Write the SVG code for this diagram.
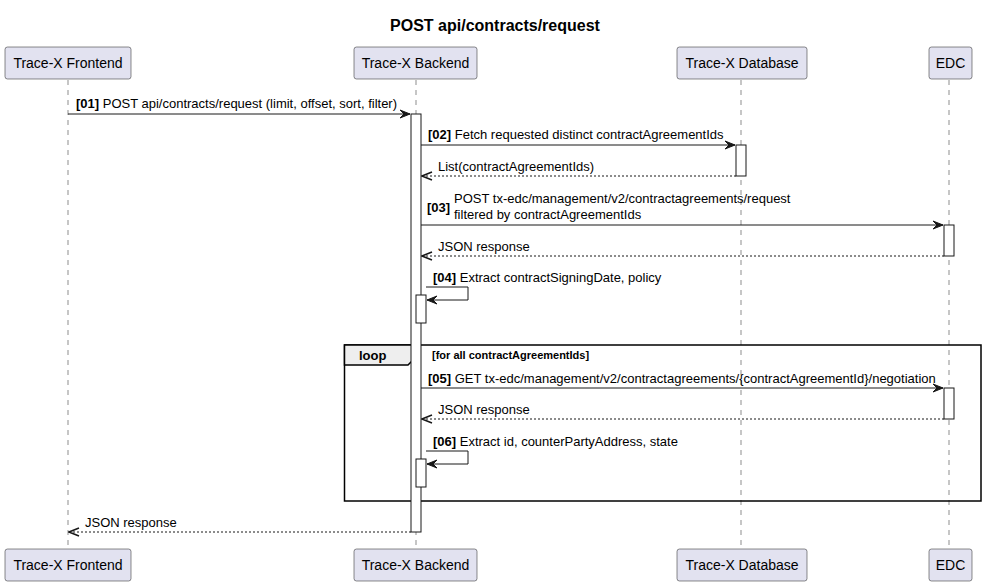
<svg xmlns="http://www.w3.org/2000/svg" width="986" height="587" viewBox="0 0 986 587">
<defs>
<style>
text{font-family:"Liberation Sans",Arial,sans-serif;fill:#000}
.p rect{fill:#E2E2F0;stroke:#181818;stroke-width:0.5}
.p text{font-size:14px}
.ll{stroke:#181818;stroke-width:0.5;stroke-dasharray:5,5;fill:none}
.act{fill:#FFFFFF;stroke:#181818;stroke-width:1}
.m{stroke:#181818;stroke-width:1;fill:none}
.r{stroke:#181818;stroke-width:1;stroke-dasharray:2,2;fill:none}
.t{font-size:13px}
.b{font-weight:bold}
</style>
<marker id="af" viewBox="0 0 12 10" refX="11" refY="5" markerWidth="12" markerHeight="10" markerUnits="userSpaceOnUse" orient="auto">
<path d="M11,5 L1,1 L5,5 L1,9 Z" fill="#181818" stroke="#181818" stroke-width="1"/>
</marker>
<marker id="ao" viewBox="0 0 12 10" refX="11" refY="5" markerWidth="12" markerHeight="10" markerUnits="userSpaceOnUse" orient="auto">
<path d="M1,1 L11,5 L1,9" fill="none" stroke="#181818" stroke-width="1.5"/>
</marker>
</defs>
<rect width="986" height="587" fill="#FFFFFF"/>
<text x="495" y="31" text-anchor="middle" font-size="16" font-weight="bold">POST api/contracts/request</text>

<g id="lifelines">
<line class="ll" x1="68" y1="80" x2="68" y2="549"/>
<line class="ll" x1="416" y1="80" x2="416" y2="549"/>
<line class="ll" x1="741" y1="80" x2="741" y2="549"/>
<line class="ll" x1="949" y1="80" x2="949" y2="549"/>
</g>

<g id="loop-frame">
<rect x="344.5" y="345" width="636.5" height="156" fill="none" stroke="#000" stroke-width="1.5"/>
<path d="M344.5,345 L418,345 L418,355 L408,365 L344.5,365 Z" fill="#EEEEEE" stroke="#000" stroke-width="1.5"/>
<text x="359" y="360" font-size="13" font-weight="bold">loop</text>
<text x="432" y="359" font-size="11" font-weight="bold">[for all contractAgreementIds]</text>
</g>

<g id="activations">
<rect class="act" x="411" y="114" width="10" height="418"/>
<rect class="act" x="736" y="145" width="10" height="31"/>
<rect class="act" x="944" y="225" width="10" height="31"/>
<rect class="act" x="416" y="295" width="10" height="28"/>
<rect class="act" x="944" y="388" width="10" height="31"/>
<rect class="act" x="416" y="459" width="10" height="28"/>
</g>

<g id="connectors">
<line class="m" x1="68" y1="114" x2="410" y2="114" marker-end="url(#af)"/>
<text class="t" x="76" y="108"><tspan class="b">[01]</tspan> POST api/contracts/request (limit, offset, sort, filter)</text>

<line class="m" x1="421" y1="145" x2="735" y2="145" marker-end="url(#af)"/>
<text class="t" x="428" y="139"><tspan class="b">[02]</tspan> Fetch requested distinct contractAgreementIds</text>

<line class="r" x1="736" y1="176" x2="422" y2="176" marker-end="url(#ao)"/>
<text class="t" x="438" y="171">List(contractAgreementIds)</text>

<line class="m" x1="421" y1="225" x2="943" y2="225" marker-end="url(#af)"/>
<text class="t b" x="427" y="212">[03]</text>
<text class="t" x="454" y="203">POST tx-edc/management/v2/contractagreements/request</text>
<text class="t" x="454" y="219">filtered by contractAgreementIds</text>

<line class="r" x1="944" y1="256" x2="422" y2="256" marker-end="url(#ao)"/>
<text class="t" x="438" y="251">JSON response</text>

<polyline class="m" points="426,287 468,287 468,300 427,300" marker-end="url(#af)"/>
<text class="t" x="433" y="282"><tspan class="b">[04]</tspan> Extract contractSigningDate, policy</text>

<line class="m" x1="421" y1="388" x2="943" y2="388" marker-end="url(#af)"/>
<text class="t" x="428" y="383"><tspan class="b">[05]</tspan> GET tx-edc/management/v2/contractagreements/{contractAgreementId}/negotiation</text>

<line class="r" x1="944" y1="419" x2="422" y2="419" marker-end="url(#ao)"/>
<text class="t" x="438" y="414">JSON response</text>

<polyline class="m" points="426,451 468,451 468,464 427,464" marker-end="url(#af)"/>
<text class="t" x="433" y="446"><tspan class="b">[06]</tspan> Extract id, counterPartyAddress, state</text>

<line class="r" x1="411" y1="532" x2="69" y2="532" marker-end="url(#ao)"/>
<text class="t" x="85" y="527">JSON response</text>
</g>

<g id="frontend-top" class="p"><rect x="5" y="47" width="126" height="32" rx="2.5"/><text x="68" y="68" text-anchor="middle">Trace-X Frontend</text></g>
<g id="backend-top" class="p"><rect x="354" y="47" width="123" height="32" rx="2.5"/><text x="415.5" y="68" text-anchor="middle">Trace-X Backend</text></g>
<g id="database-top" class="p"><rect x="677" y="47" width="130" height="32" rx="2.5"/><text x="742" y="68" text-anchor="middle">Trace-X Database</text></g>
<g id="edc-top" class="p"><rect x="929" y="47" width="43" height="32" rx="2.5"/><text x="950.5" y="68" text-anchor="middle">EDC</text></g>

<g id="frontend-bottom" class="p"><rect x="5" y="549" width="126" height="32" rx="2.5"/><text x="68" y="570" text-anchor="middle">Trace-X Frontend</text></g>
<g id="backend-bottom" class="p"><rect x="354" y="549" width="123" height="32" rx="2.5"/><text x="415.5" y="570" text-anchor="middle">Trace-X Backend</text></g>
<g id="database-bottom" class="p"><rect x="677" y="549" width="130" height="32" rx="2.5"/><text x="742" y="570" text-anchor="middle">Trace-X Database</text></g>
<g id="edc-bottom" class="p"><rect x="929" y="549" width="43" height="32" rx="2.5"/><text x="950.5" y="570" text-anchor="middle">EDC</text></g>
</svg>
